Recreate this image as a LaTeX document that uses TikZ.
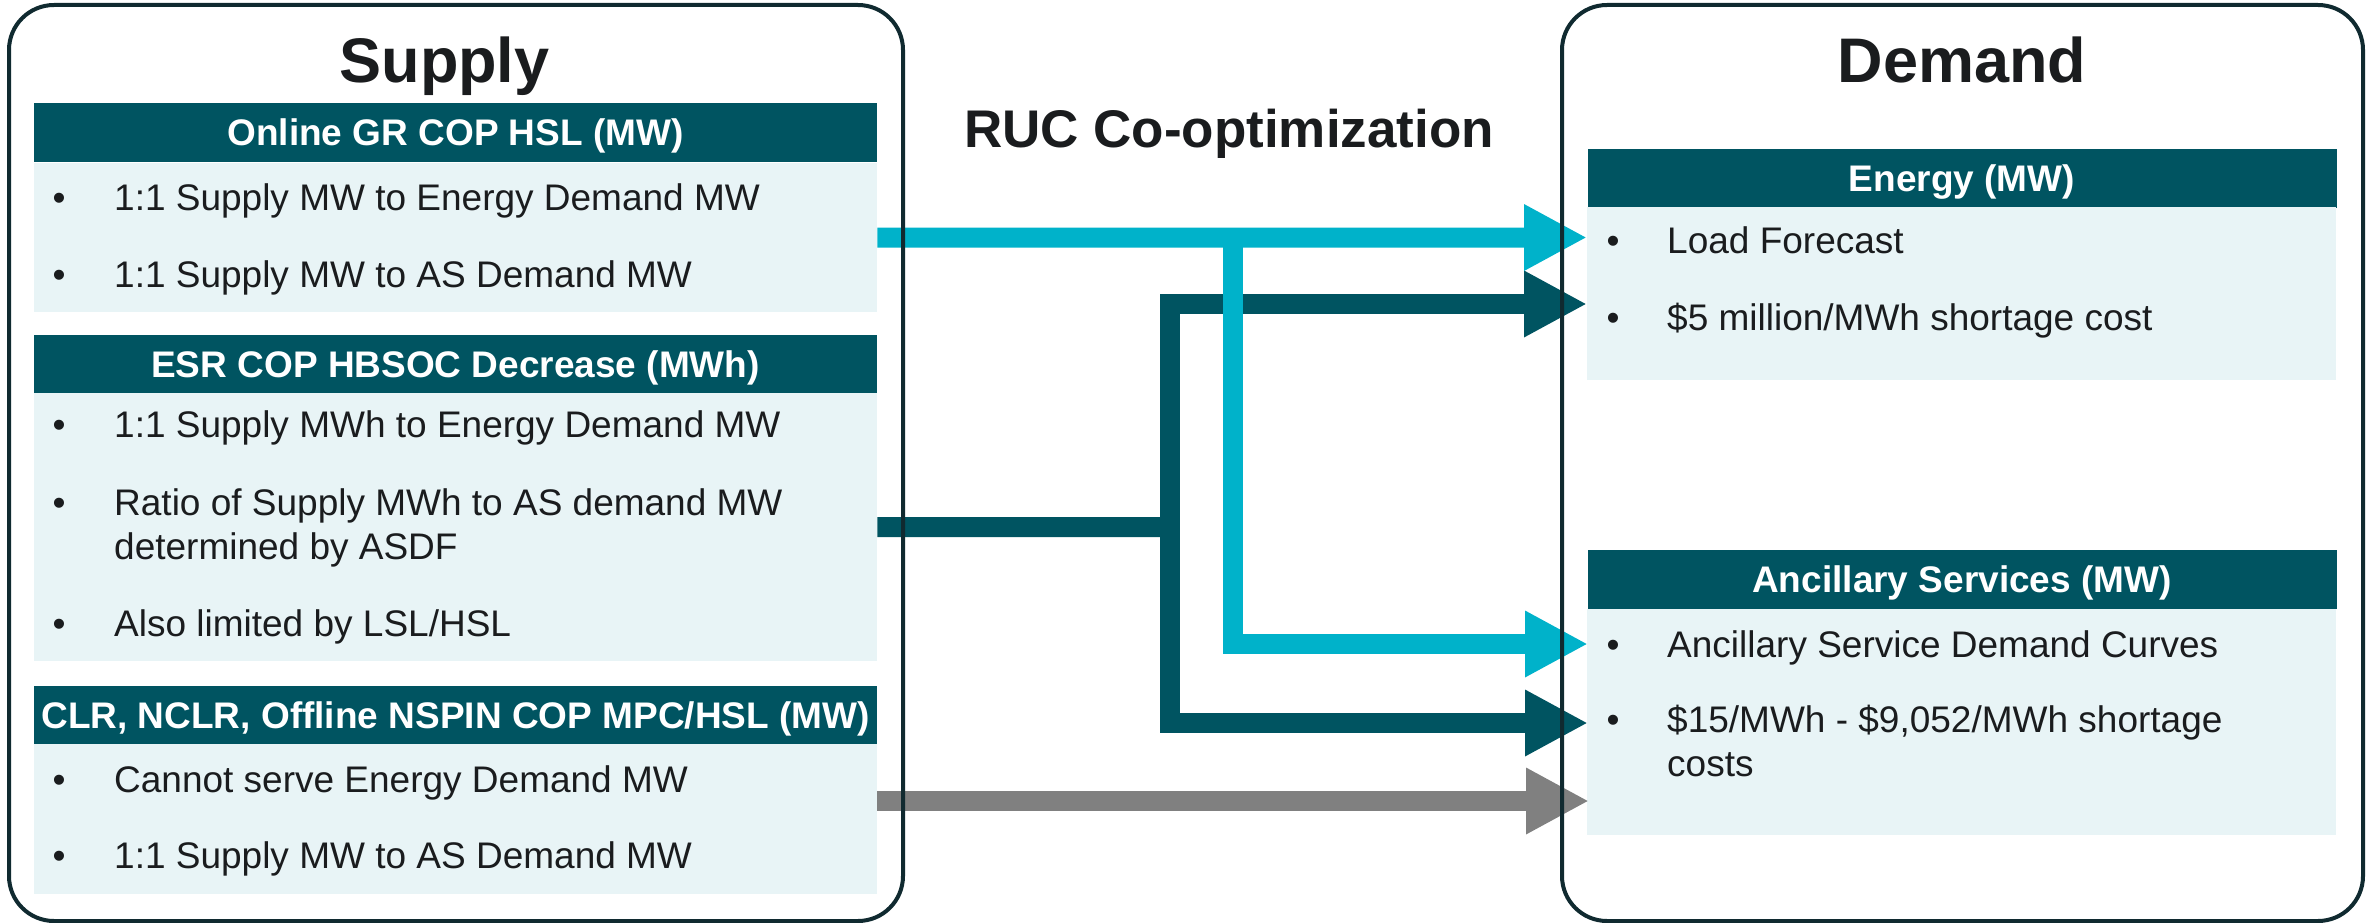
\documentclass[tikz,border=0pt]{standalone}
\usepackage{fontspec}
\setmainfont{Liberation Sans}
\usetikzlibrary{arrows.meta}
\definecolor{hdr}{RGB}{0,84,97}
\definecolor{lightbg}{RGB}{232,244,246}
\definecolor{cyanar}{RGB}{0,178,202}
\definecolor{grayar}{RGB}{128,128,128}
\definecolor{framec}{RGB}{16,42,48}
\definecolor{txt}{RGB}{26,28,30}
\begin{document}
\begin{tikzpicture}[x=1pt,y=-1pt,
  hdrbox/.style={fill=hdr, text=white, font=\fontsize{37}{44}\selectfont\bfseries,
    minimum width=843pt, minimum height=59pt, inner sep=0pt,
    text height=26.5pt, text depth=0pt},
  bodybox/.style={fill=lightbg, inner sep=0pt, anchor=north west, minimum width=843pt},
  bul/.style={anchor=base, inner sep=0pt, text=txt, font=\fontsize{37}{44}\selectfont},
  itm/.style={anchor=base west, inner sep=0pt, text=txt, font=\fontsize{37}{44}\selectfont},
  ttl/.style={anchor=base, inner sep=0pt, text=txt, font=\fontsize{63}{70}\selectfont\bfseries},
  flow/.style={line width=20pt, line join=miter, -{Triangle[length=63pt,width=62pt]}},
  outer/.style={draw=framec, line width=4pt, rounded corners=45pt}
]
\useasboundingbox (0,0) rectangle (2369,923);

% ---------- Supply contents ----------
\node[ttl] (supply) at (444.5,83) {Supply};
\node[hdrbox] (h1) at (455.5,132.5) {Online GR COP HSL (MW)};
\node[bodybox, minimum height=149pt] (b1) at (34,163) {};
\node[hdrbox] (h2) at (455.5,364) {ESR COP HBSOC Decrease (MWh)};
\node[bodybox, minimum height=268pt] (b2) at (34,393) {};
\node[hdrbox] (h3) at (455.5,715) {CLR, NCLR, Offline NSPIN COP MPC/HSL (MW)};
\node[bodybox, minimum height=150pt] (b3) at (34,744) {};

\node[bul] (s1b) at (59,210) {•};
\node[itm] (s1) at (114,210) {1:1 Supply MW to Energy Demand MW};
\node[bul] (s2b) at (59,287) {•};
\node[itm] (s2) at (114,287) {1:1 Supply MW to AS Demand MW};
\node[bul] (s3b) at (59,437) {•};
\node[itm] (s3) at (114,437) {1:1 Supply MWh to Energy Demand MW};
\node[bul] (s4b) at (59,515) {•};
\node[itm] (s4) at (114,515) {Ratio of Supply MWh to AS demand MW};
\node[itm] (s4c) at (114,559) {determined by ASDF};
\node[bul] (s5b) at (59,636) {•};
\node[itm] (s5) at (114,636) {Also limited by LSL/HSL};
\node[bul] (s6b) at (59,792) {•};
\node[itm] (s6) at (114,792) {Cannot serve Energy Demand MW};
\node[bul] (s7b) at (59,868) {•};
\node[itm] (s7) at (114,868) {1:1 Supply MW to AS Demand MW};

% ---------- Demand contents ----------
\node[ttl] (demand) at (1962,83) {Demand};
\node[hdrbox, minimum width=749pt] (eh) at (1962,178.5) {Energy (MW)};
\node[bodybox, minimum width=749pt, minimum height=173pt] (eb) at (1587,207) {};
\node[hdrbox, minimum width=749pt] (ah) at (1962,579) {Ancillary Services (MW)};
\node[bodybox, minimum width=749pt, minimum height=226pt] (ab) at (1587,609) {};

\node[bul] (d1b) at (1613,253) {•};
\node[itm] (d1) at (1667,253) {Load Forecast};
\node[bul] (d2b) at (1613,330) {•};
\node[itm] (d2) at (1667,330) {\$5 million/MWh shortage cost};
\node[bul] (d3b) at (1613,657) {•};
\node[itm] (d3) at (1667,657) {Ancillary Service Demand Curves};
\node[bul] (d4b) at (1613,732) {•};
\node[itm] (d4) at (1667,732) {\$15/MWh - \$9,052/MWh shortage};
\node[itm] (d4c) at (1667,776) {costs};

% ---------- Middle title ----------
\node[anchor=base, inner sep=0pt, text=txt, font=\fontsize{53}{60}\selectfont\bfseries] (ruc) at (1229,147) {RUC Co-optimization};

% ---------- Connectors ----------
\coordinate (tE1) at (1587,237.5);
\coordinate (tE2) at (1587,304);
\coordinate (tA1) at (1588,644);
\coordinate (tA2) at (1588,723);
\coordinate (tA3) at (1589,801);
\coordinate (jc) at (1233,237.5);
\coordinate (jt) at (1170,527);

\draw[flow, hdr, -] (b2.east) -- (jt);
\draw[flow, hdr] (jt) |- (tE2);
\draw[flow, hdr] (jt) |- (tA2);
\draw[flow, cyanar] (b1.east) -- (tE1);
\draw[flow, cyanar] (jc) |- (tA1);
\draw[flow, grayar] (b3.east |- tA3) -- (tA3);

% ---------- Outer frames ----------
\draw[outer] (9,5) rectangle (903,921);
\draw[outer] (1562,5) rectangle (2363,921);
\end{tikzpicture}
\end{document}
